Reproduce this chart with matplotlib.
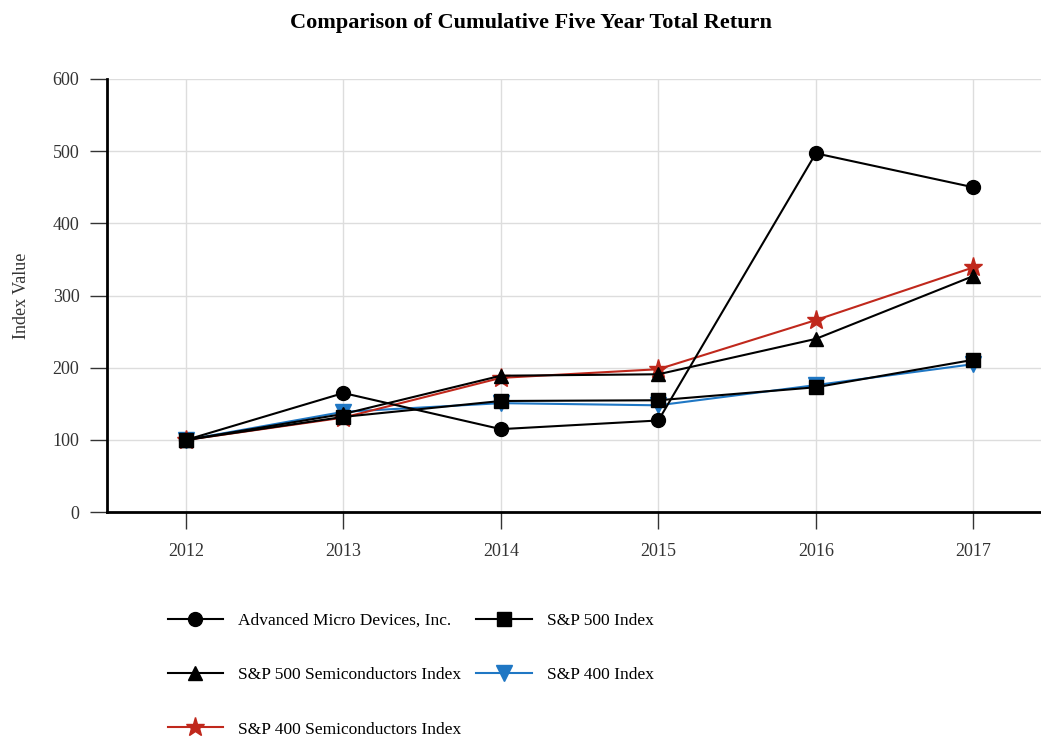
import matplotlib.pyplot as plt

plt.rcParams['font.family'] = ['Liberation Serif', 'DejaVu Serif']

years = [2012, 2013, 2014, 2015, 2016, 2017]
amd = [100, 165, 115, 127, 497, 450]
sp500 = [100, 132, 154, 155, 173, 211]
semi500 = [100, 136, 189, 191, 240, 327]
sp400 = [100, 139, 151, 148, 176, 205]
semi400 = [100, 131, 186, 198, 266, 339]

fig = plt.figure(figsize=(10.41, 7.38), dpi=100)
ax = fig.add_axes([0.103, 0.306, 0.897, 0.587])

l1, = ax.plot(years, amd, color='black', lw=1.5, marker='o', ms=10, label='Advanced Micro Devices, Inc.', zorder=5)
l4, = ax.plot(years, sp400, color='#1f77c4', lw=1.5, marker='v', ms=11, label='S&P 400 Index', zorder=3)
l2, = ax.plot(years, sp500, color='black', lw=1.5, marker='s', ms=10, label='S&P 500 Index', zorder=4)
l5, = ax.plot(years, semi400, color='#c0281c', lw=1.5, marker='*', ms=14, label='S&P 400 Semiconductors Index', zorder=3)
l3, = ax.plot(years, semi500, color='black', lw=1.5, marker='^', ms=10, label='S&P 500 Semiconductors Index', zorder=4)

ax.set_xlim(2011.5, 2017.43)
ax.set_ylim(0, 600)
ax.set_xticks(years)
ax.set_yticks(range(0, 601, 100))
ax.tick_params(labelsize=13, colors='#333333', length=12, width=1)
ax.tick_params(axis='x', pad=10)
ax.tick_params(axis='y', pad=8)
ax.grid(True, color='#dddddd', lw=1)
ax.set_axisbelow(True)
for s in ['top', 'right']:
    ax.spines[s].set_visible(False)
ax.spines['left'].set_linewidth(2)
ax.spines['bottom'].set_linewidth(2)
ax.set_ylabel('Index Value', fontsize=13, color='#333333', labelpad=16)

fig.suptitle('Comparison of Cumulative Five Year Total Return', x=0.51, y=0.983,
             fontsize=16, fontweight='bold')

handles = [l1, l3, l5, l2, l4]
fig.legend(handles, [h.get_label() for h in handles], ncol=2, frameon=False,
           loc='upper left', bbox_to_anchor=(0.146, 0.191), fontsize=12.5,
           handlelength=3.2, handletextpad=0.86, columnspacing=0.86, labelspacing=2.2)

fig.savefig('out.png', dpi=100)
